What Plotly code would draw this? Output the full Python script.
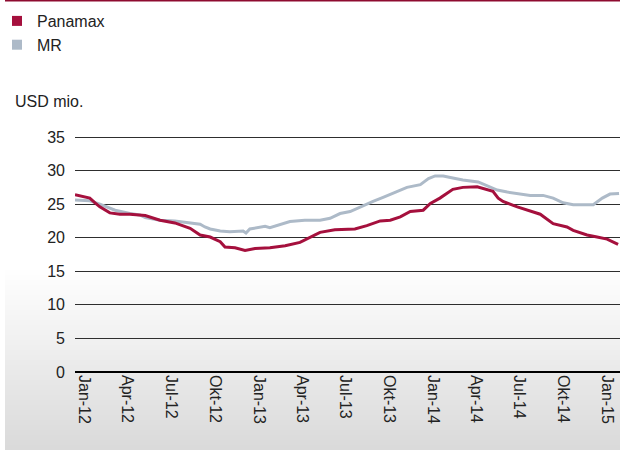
import plotly.graph_objects as go

# ---- data ----
panamax_dates = ["2011-12-13", "2012-01-13", "2012-01-24", "2012-02-03", "2012-02-24", "2012-03-16",
                 "2012-04-06", "2012-05-08", "2012-06-08", "2012-07-09", "2012-08-10", "2012-08-31",
                 "2012-09-21", "2012-10-12", "2012-10-22", "2012-11-12", "2012-12-03", "2012-12-24",
                 "2013-01-24", "2013-02-25", "2013-03-28", "2013-04-18", "2013-05-09", "2013-06-09",
                 "2013-07-21", "2013-08-15", "2013-09-12", "2013-10-03", "2013-10-24", "2013-11-14",
                 "2013-12-11", "2013-12-26", "2014-01-15", "2014-02-11", "2014-03-04", "2014-04-03",
                 "2014-04-24", "2014-05-06", "2014-05-17", "2014-05-27", "2014-06-26", "2014-07-23",
                 "2014-08-13", "2014-09-09", "2014-10-08", "2014-10-21", "2014-11-19", "2014-12-10",
                 "2014-12-31", "2015-01-23"]
panamax_values = [26.4, 25.9, 25.2, 24.6, 23.7, 23.5,
                  23.5, 23.3, 22.6, 22.2, 21.4, 20.4,
                  20.1, 19.4, 18.6, 18.5, 18.1, 18.4,
                  18.5, 18.8, 19.3, 20.0, 20.8, 21.2,
                  21.3, 21.8, 22.5, 22.6, 23.1, 23.9,
                  24.1, 25.1, 25.9, 27.2, 27.5, 27.6,
                  27.2, 26.9, 25.9, 25.4, 24.6, 24.0,
                  23.5, 22.1, 21.6, 21.1, 20.4, 20.1,
                  19.8, 19.0]

mr_dates = ["2011-12-13", "2012-01-13", "2012-02-03", "2012-03-06", "2012-04-06", "2012-04-27",
            "2012-05-08", "2012-06-08", "2012-07-09", "2012-08-10", "2012-08-31", "2012-09-10",
            "2012-09-21", "2012-10-12", "2012-11-01", "2012-11-29", "2012-12-05", "2012-12-13",
            "2013-01-14", "2013-01-24", "2013-03-07", "2013-04-07", "2013-05-09", "2013-05-30",
            "2013-06-20", "2013-07-11", "2013-08-01", "2013-08-28", "2013-09-18", "2013-10-09",
            "2013-11-07", "2013-12-05", "2013-12-22", "2014-01-05", "2014-01-22", "2014-02-11",
            "2014-03-04", "2014-04-05", "2014-04-24", "2014-05-15", "2014-06-05", "2014-07-02",
            "2014-07-23", "2014-08-19", "2014-09-09", "2014-09-30", "2014-10-21", "2014-12-02",
            "2014-12-21", "2015-01-06", "2015-01-25"]
mr_values = [25.6, 25.5, 25.0, 24.1, 23.6, 23.4,
             23.0, 22.6, 22.5, 22.2, 22.0, 21.6,
             21.3, 21.0, 20.9, 21.0, 20.7, 21.3,
             21.7, 21.5, 22.4, 22.6, 22.6, 22.9,
             23.6, 23.9, 24.6, 25.4, 26.0, 26.6,
             27.5, 27.9, 28.8, 29.2, 29.2, 28.9,
             28.6, 28.3, 27.7, 27.1, 26.8, 26.5,
             26.3, 26.3, 25.9, 25.2, 24.9, 24.9,
             25.9, 26.5, 26.6]

tick_dates = ["2012-01-01", "2012-04-01", "2012-07-01", "2012-10-01",
              "2013-01-01", "2013-04-01", "2013-07-01", "2013-10-01",
              "2014-01-01", "2014-04-01", "2014-07-01", "2014-10-01", "2015-01-01"]
tick_labels = ["Jan-12", "Apr-12", "Jul-12", "Okt-12", "Jan-13", "Apr-13", "Jul-13",
               "Okt-13", "Jan-14", "Apr-14", "Jul-14", "Okt-14", "Jan-15"]
y_ticks = [0, 5, 10, 15, 20, 25, 30, 35]

RED = "#A5103D"
GREY = "#ADBAC8"
TXT = "#222222"
FONT = "Liberation Sans"

fig = go.Figure()
fig.add_trace(go.Scatter(x=mr_dates, y=mr_values, mode="lines",
                         line=dict(color=GREY, width=3), showlegend=False))
fig.add_trace(go.Scatter(x=panamax_dates, y=panamax_values, mode="lines",
                         line=dict(color=RED, width=3), showlegend=False))
# legend entries (square swatches)
fig.add_trace(go.Scatter(x=[None], y=[None], mode="markers", name="Panamax",
                         marker=dict(symbol="square", size=10, color=RED)))
fig.add_trace(go.Scatter(x=[None], y=[None], mode="markers", name="MR",
                         marker=dict(symbol="square", size=10, color=GREY)))

W, H = 620, 450
L, R, T, B = 75, 0, 135, 76
pw, ph = W - L - R, H - T - B

def px_x(x):
    return (x - L) / pw

def px_y(y):
    return (H - B - y) / ph

shapes = []
# background gradient at the bottom
y0, y1 = 270, 450
n = 36
for i in range(n):
    ya = y0 + (y1 - y0) * i / n
    yb = y0 + (y1 - y0) * (i + 1) / n
    t = (i + 0.5) / n
    c = int(round(255 - t * (255 - 217)))
    shapes.append(dict(type="rect", xref="paper", yref="paper",
                       x0=px_x(5), x1=px_x(620), y0=px_y(yb), y1=px_y(ya),
                       fillcolor=f"rgb({c},{c},{c})", line=dict(width=0), layer="below"))
# top rule
shapes.append(dict(type="line", xref="paper", yref="paper",
                   x0=px_x(5), x1=px_x(620), y0=px_y(0.8), y1=px_y(0.8),
                   line=dict(color="#8E0B30", width=1.6)))

fig.update_layout(
    width=W, height=H,
    margin=dict(l=L, r=R, t=T, b=B, pad=0, autoexpand=False),
    paper_bgcolor="white",
    plot_bgcolor="rgba(0,0,0,0)",
    font=dict(family=FONT, size=16, color=TXT),
    shapes=shapes,
    legend=dict(xref="container", yref="container", x=0.0, y=1.0 - 4 / H,
                xanchor="left", yanchor="top", indentation=-3,
                font=dict(family=FONT, size=16, color=TXT),
                itemwidth=30, tracegroupgap=0, bgcolor="rgba(0,0,0,0)"),
    annotations=[dict(text="USD mio.", xref="paper", yref="paper",
                      x=px_x(13), y=px_y(101), xanchor="left", yanchor="middle",
                      showarrow=False, font=dict(family=FONT, size=16, color=TXT))],
    xaxis=dict(type="date", range=["2011-12-13", "2015-01-27"], automargin=False,
               tickvals=tick_dates, ticktext=tick_labels, tickangle=90,
               showgrid=False, zeroline=False, showline=False, ticks="",
               tickfont=dict(family=FONT, size=16, color=TXT)),
    yaxis=dict(range=[-0.3, 35.3], tickvals=y_ticks, showgrid=True, automargin=False,
               gridcolor="#2e2e2e", gridwidth=1, zeroline=True, zerolinecolor="#000000",
               zerolinewidth=1.5, showline=False, ticks="", ticklabelstandoff=9,
               tickfont=dict(family=FONT, size=16, color=TXT)),
)

fig.write_html("out.html", config={"displayModeBar": False},
               post_script="document.body.style.margin='0';")
